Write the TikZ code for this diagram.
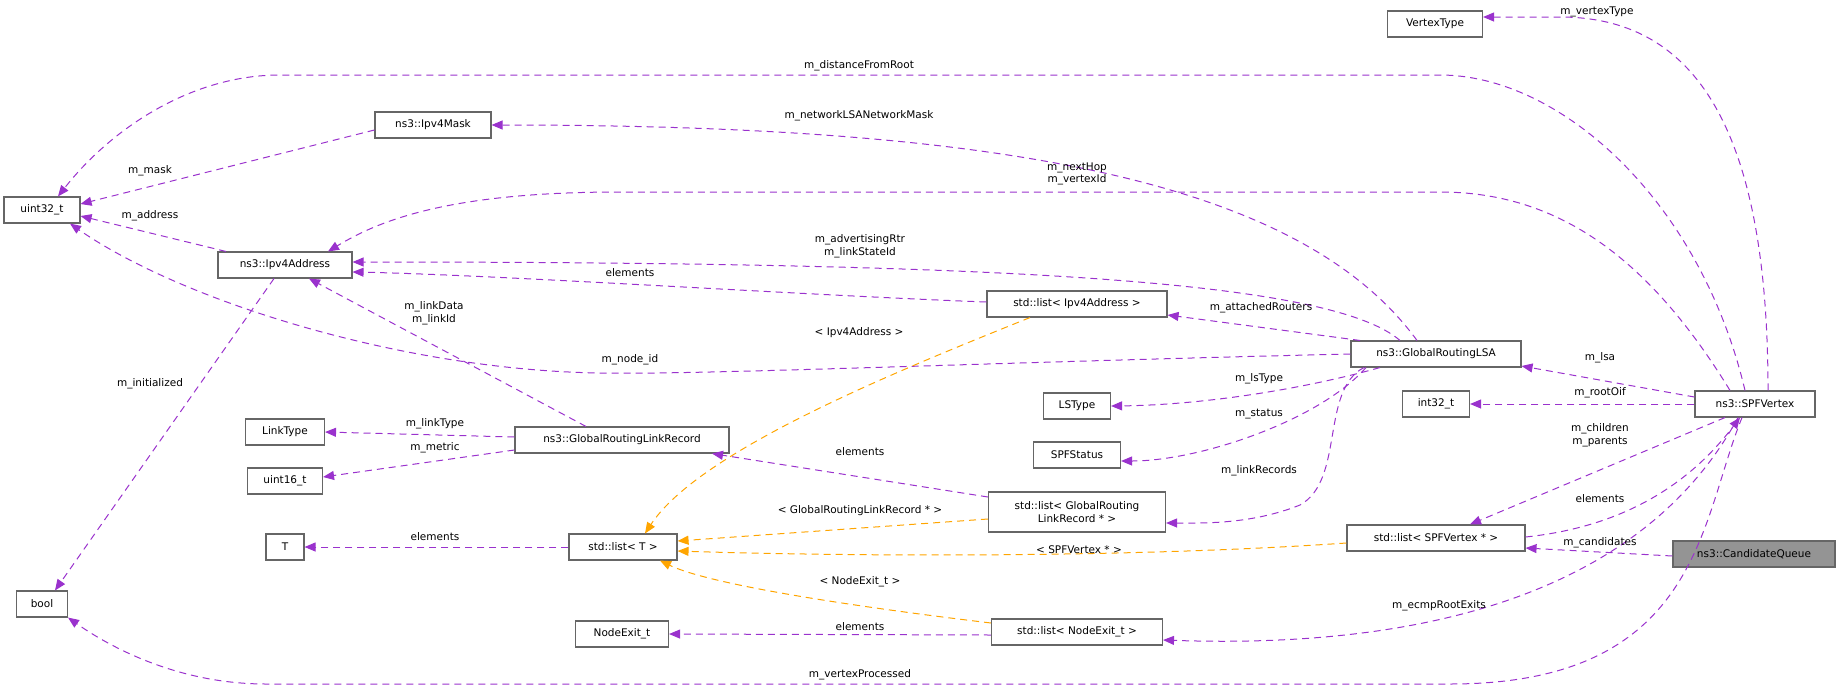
\documentclass[tikz,border=0pt]{standalone}
\usepackage{fontspec}
\setmainfont{DejaVu Sans}
\usetikzlibrary{arrows.meta}
\definecolor{memcol}{HTML}{9A32CD}
\definecolor{tplcol}{HTML}{FFA500}
\definecolor{boxcol}{HTML}{666666}
\tikzset{
  cls/.style={draw=boxcol,line width=1.1pt,fill=white,inner xsep=3pt,inner ysep=0pt,minimum height=26pt,font=\fontsize{10.5}{12.5}\selectfont,align=center},
  hl/.style={cls,fill=black!42},
  mem/.style={draw=memcol,line width=1pt,dash pattern=on 7pt off 5pt,-{Triangle[length=11pt,width=9pt]}},
  tpl/.style={mem,draw=tplcol},
  lbl/.style={font=\fontsize{10.5}{12.5}\selectfont,align=center,inner sep=0pt}
}
\begin{document}
\begin{tikzpicture}[x=1pt,y=-1pt]
  \useasboundingbox (0,0) rectangle (1837,689);
  % classes
  \node[cls,minimum width=95pt] (vtype) at (1435,24) {VertexType};
  \node[cls,minimum width=76pt] (u32) at (42,210) {uint32\_t};
  \node[cls,minimum width=116pt] (mask) at (433,125) {ns3::Ipv4Mask};
  \node[cls,minimum width=134pt] (addr) at (285,265) {ns3::Ipv4Address};
  \node[cls,minimum width=180pt] (laddr) at (1077,304) {std::list< Ipv4Address >};
  \node[cls,minimum width=170pt] (lsa) at (1436,354) {ns3::GlobalRoutingLSA};
  \node[cls,minimum width=67pt] (lstype) at (1077,406) {LSType};
  \node[cls,minimum width=67pt] (i32) at (1436,404) {int32\_t};
  \node[cls,minimum width=120pt] (vtx) at (1755,404) {ns3::SPFVertex};
  \node[cls,minimum width=79pt] (ltype) at (285,432) {LinkType};
  \node[cls,minimum width=214pt] (rec) at (622,440) {ns3::GlobalRoutingLinkRecord};
  \node[cls,minimum width=87pt] (status) at (1077,455) {SPFStatus};
  \node[cls,minimum width=75pt] (u16) at (285,481) {uint16\_t};
  \node[cls,minimum width=177pt,minimum height=40pt] (lrec) at (1077,512) {std::list< GlobalRouting\\LinkRecord * >};
  \node[cls,minimum width=38pt] (tt) at (285,547) {T};
  \node[cls,minimum width=108pt] (lt) at (623,547) {std::list< T >};
  \node[cls,minimum width=178pt] (lvtx) at (1436,538) {std::list< SPFVertex * >};
  \node[hl,minimum width=162pt] (cq) at (1754,554) {ns3::CandidateQueue};
  \node[cls,minimum width=51pt] (bool) at (42,604) {bool};
  \node[cls,minimum width=93pt] (nexit) at (622,634) {NodeExit\_t};
  \node[cls,minimum width=171pt] (lexit) at (1077,632) {std::list< NodeExit\_t >};
  % members
  \draw[mem] ([xshift=13pt]vtx.north) .. controls (1768,120) and (1690,17) .. (1560,17) -- ([yshift=7pt]vtype.east);
  \draw[mem] ([xshift=-10pt]vtx.north) .. controls (1700,200) and (1560,75) .. (1440,75) -- (280,75)
    .. controls (190,75) and (110,130) .. ([xshift=16pt]u32.north);
  \draw[mem] ([yshift=-5pt]mask.west) -- ([yshift=6pt]u32.east);
  \draw[mem] ([xshift=-25pt]vtx.north) .. controls (1650,260) and (1560,192) .. (1440,192) -- (620,192)
    .. controls (450,192) and (380,220) .. ([xshift=43pt]addr.north);
  \draw[mem] ([xshift=-19pt]lsa.north) .. controls (1300,180) and (1000,125) .. (mask.east);
  \draw[mem] ([xshift=-36pt]lsa.north) .. controls (1330,280) and (1000,262) .. ([yshift=3pt]addr.east);
  \draw[mem] ([xshift=-59pt]addr.north) -- ([yshift=-6pt]u32.east);
  \draw[mem] ([yshift=2pt]laddr.west) .. controls (800,295) and (500,275) .. ([yshift=-7pt]addr.east);
  \draw[mem] ([xshift=-76pt]lsa.north) -- ([yshift=-11pt]laddr.east);
  \draw[mem] (lsa.west) .. controls (1000,362) and (700,375) .. (600,373)
    .. controls (400,370) and (180,300) .. ([xshift=28pt]u32.south);
  \draw[mem] ([xshift=-11pt]addr.south) -- ([xshift=13pt]bool.north);
  \draw[mem] ([xshift=-36pt]rec.north) -- ([xshift=24pt]addr.south);
  \draw[mem] ([xshift=-56pt]lsa.south) .. controls (1300,390) and (1200,405) .. (lstype.east);
  \draw[mem] ([xshift=-70pt]lsa.south) .. controls (1320,420) and (1200,461) .. ([yshift=-6pt]status.east);
  \draw[mem] ([xshift=-72pt]lsa.south) .. controls (1320,390) and (1345,480) .. (1300,505)
    .. controls (1250,525) and (1200,523) .. ([yshift=-11pt]lrec.east);
  \draw[mem] ([yshift=7pt]vtx.west) -- ([yshift=-12pt]lsa.east);
  \draw[mem] (vtx.west) -- (i32.east);
  \draw[mem] ([xshift=-30pt]vtx.south) -- ([xshift=34pt]lvtx.north);
  \draw[mem] ([yshift=1pt]lvtx.east) .. controls (1640,525) and (1700,470) .. ([xshift=-15pt]vtx.south);
  \draw[mem] ([yshift=-2pt]cq.west) -- ([yshift=-10pt]lvtx.east);
  \draw[mem] ([xshift=-17pt]vtx.south) .. controls (1650,580) and (1450,650) .. ([yshift=-8pt]lexit.east);
  \draw[mem] ([xshift=-13pt]vtx.south) .. controls (1700,520) and (1700,684) .. (1450,684) -- (266,684)
    .. controls (170,684) and (100,640) .. ([xshift=26pt]bool.south);
  \draw[mem] ([yshift=3pt]rec.west) -- ([yshift=0pt]ltype.east);
  \draw[mem] ([yshift=-10pt]rec.west) -- ([yshift=4pt]u16.east);
  \draw[mem] ([yshift=15pt]lrec.west) -- ([xshift=90pt]rec.south);
  \draw[mem] (lt.west) -- (tt.east);
  \draw[mem] ([yshift=-3pt]lexit.west) -- (nexit.east);
  % template instances
  \draw[tpl] ([xshift=-47pt]laddr.south) .. controls (900,370) and (700,450) .. ([xshift=22pt]lt.north);
  \draw[tpl] ([yshift=-7pt]lrec.west) -- ([yshift=6pt]lt.east);
  \draw[tpl] ([yshift=-5pt]lvtx.west) .. controls (1100,560) and (800,555) .. ([yshift=-4pt]lt.east);
  \draw[tpl] ([yshift=9pt]lexit.west) .. controls (800,600) and (700,580) .. ([xshift=37pt]lt.south);
  % labels
  \node[lbl] (l1) at (1597,12) {m\_vertexType};
  \node[lbl] (l2) at (859,66) {m\_distanceFromRoot};
  \node[lbl] (l3) at (150,171) {m\_mask};
  \node[lbl] (l4) at (1077,174) {m\_nextHop\\m\_vertexId};
  \node[lbl] (l5) at (859,116) {m\_networkLSANetworkMask};
  \node[lbl] (l6) at (860,246) {m\_advertisingRtr\\m\_linkStateId};
  \node[lbl] (l7) at (150,216) {m\_address};
  \node[lbl] (l8) at (630,273) {elements};
  \node[lbl] (l9) at (1261,308) {m\_attachedRouters};
  \node[lbl] (l10) at (630,360) {m\_node\_id};
  \node[lbl] (l11) at (150,384) {m\_initialized};
  \node[lbl] (l12) at (434,313) {m\_linkData\\m\_linkId};
  \node[lbl] (l13) at (859,333) {< Ipv4Address >};
  \node[lbl] (l14) at (1259,379) {m\_lsType};
  \node[lbl] (l15) at (1259,414) {m\_status};
  \node[lbl] (l16) at (1259,471) {m\_linkRecords};
  \node[lbl] (l17) at (1600,358) {m\_lsa};
  \node[lbl] (l18) at (1600,393) {m\_rootOif};
  \node[lbl] (l19) at (1600,435) {m\_children\\m\_parents};
  \node[lbl] (l20) at (1600,499) {elements};
  \node[lbl] (l21) at (1600,543) {m\_candidates};
  \node[lbl] (l22) at (1439,606) {m\_ecmpRootExits};
  \node[lbl] (l23) at (860,675) {m\_vertexProcessed};
  \node[lbl] (l24) at (860,452) {elements};
  \node[lbl] (l25) at (860,511) {< GlobalRoutingLinkRecord * >};
  \node[lbl] (l26) at (435,537) {elements};
  \node[lbl] (l27) at (1079,550) {< SPFVertex * >};
  \node[lbl] (l28) at (860,582) {< NodeExit\_t >};
  \node[lbl] (l29) at (860,627) {elements};
  \node[lbl] (l30) at (435,424) {m\_linkType};
  \node[lbl] (l31) at (435,448) {m\_metric};
\end{tikzpicture}
\end{document}
